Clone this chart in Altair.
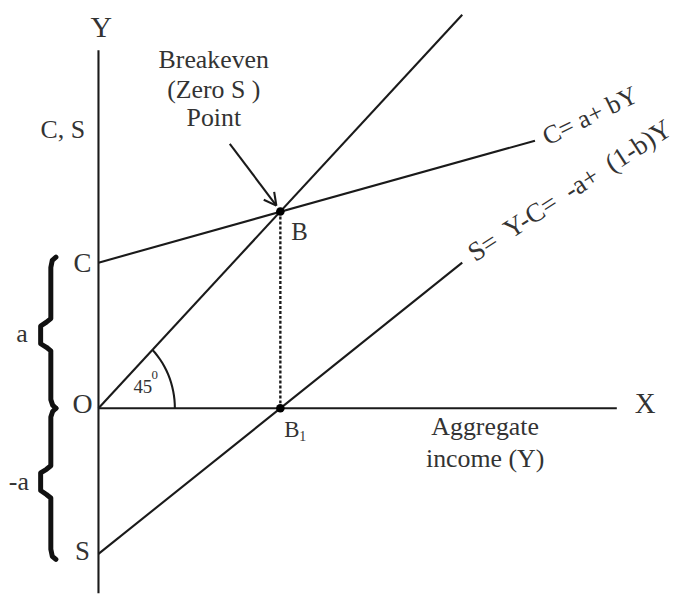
import math
import altair as alt
import pandas as pd

# ---- values (data units) ----
A = 37                      # intercept a
LINE45_X = [0, 100]; LINE45_Y = [0, 100]
CLINE_X = [0, 120];  CLINE_Y = [37, 68]
SLINE_X = [0, 100];  SLINE_Y = [-37, 37]
YAXIS_X = [0, 0];    YAXIS_Y = [-47, 91]
XAXIS_X = [0, 142.5]; XAXIS_Y = [0, 0]
BREAK_X = 50; BREAK_Y = 50
DOTS_X = [50, 50]; DOTS_Y = [50, 0]

XDOM = [-24.6, 158.5]
YDOM = [-47, 100]
W, H = 670, 582
SX = W / (XDOM[1] - XDOM[0])
SY = H / (YDOM[1] - YDOM[0])

INK = "#1a1a1a"
TXT = "#333333"
FONT = "Liberation Serif"

xs = alt.Scale(domain=XDOM, nice=False, zero=False)
ys = alt.Scale(domain=YDOM, nice=False, zero=False)

def X(f="x"):
    return alt.X(f"{f}:Q", scale=xs, axis=None)

def Y(f="y"):
    return alt.Y(f"{f}:Q", scale=ys, axis=None)

# ---- solid lines ----
rows = []
for name, lx, ly in [("yaxis", YAXIS_X, YAXIS_Y), ("xaxis", XAXIS_X, XAXIS_Y),
                     ("l45", LINE45_X, LINE45_Y), ("c", CLINE_X, CLINE_Y),
                     ("s", SLINE_X, SLINE_Y)]:
    for i, (a, b) in enumerate(zip(lx, ly)):
        rows.append({"seg": name, "i": i, "x": a, "y": b})

# arrow shaft and head
AR_FROM = (36.1, 67.2)
AR_TO = (48.9, 51.5)
dx = (AR_TO[0] - AR_FROM[0]) * SX
dy = -(AR_TO[1] - AR_FROM[1]) * SY
L = math.hypot(dx, dy); ux, uy = dx / L, dy / L
rows += [{"seg": "arrow", "i": 0, "x": AR_FROM[0], "y": AR_FROM[1]},
         {"seg": "arrow", "i": 1, "x": AR_TO[0], "y": AR_TO[1]}]
for k, ang in enumerate([28, -28]):
    t = math.radians(ang)
    hx = ux * math.cos(t) - uy * math.sin(t)
    hy = ux * math.sin(t) + uy * math.cos(t)
    px = AR_TO[0] - 14 * hx / SX
    py = AR_TO[1] + 14 * hy / SY
    rows += [{"seg": f"head{k}", "i": 0, "x": px, "y": py},
             {"seg": f"head{k}", "i": 1, "x": AR_TO[0], "y": AR_TO[1]}]

# 45 degree arc
R = 21
for i in range(16):
    t = math.radians(45 * i / 15)
    rows.append({"seg": "arc", "i": i, "x": R * math.cos(t), "y": R * math.sin(t)})

lines_df = pd.DataFrame(rows)
lines = alt.Chart(lines_df).mark_line(color=INK, strokeWidth=2.1).encode(
    x=X(), y=Y(), detail="seg:N", order="i:Q")

# ---- braces ----
BRACE_XR, BRACE_XM, BRACE_XL = -11.7, -13.1, -15.9
brows = []
for sgn, nm in [(1, "up"), (-1, "dn")]:
    pts = [(BRACE_XR, 38.4), (-12.7, 37.6), (BRACE_XM, 35.8), (BRACE_XM, 22.8),
           (-14.3, 21.9), (BRACE_XL, 20.9), (BRACE_XL, 16.4), (-14.3, 15.5),
           (BRACE_XM, 14.6), (BRACE_XM, 2.2), (-12.6, 0.8), (BRACE_XR, 0)]
    for i, (a, b) in enumerate(pts):
        brows.append({"seg": nm, "i": i, "x": a, "y": sgn * b})
braces = alt.Chart(pd.DataFrame(brows)).mark_line(
    color="#111111", strokeWidth=5, strokeJoin="round", strokeCap="round").encode(
    x=X(), y=Y(), detail="seg:N", order="i:Q")

# ---- dashed drop line ----
dash = alt.Chart(pd.DataFrame({"x": [BREAK_X, BREAK_X], "y": [BREAK_Y, 0], "i": [0, 1]})).mark_line(
    color=INK, strokeWidth=2.4, strokeDash=[3, 2]).encode(x=X(), y=Y(), order="i:Q")

# ---- dots ----
dots = alt.Chart(pd.DataFrame({"x": DOTS_X, "y": DOTS_Y})).mark_point(
    filled=True, color="#000000", size=75, opacity=1).encode(x=X(), y=Y())

# ---- centered labels ----
CT_TEXT = ["Y", "X", "C, S", "C", "O", "S", "a", "-a",
           "Breakeven", "(Zero S )", "Point", "Aggregate", "income (Y)"]
CT_X = [0.8, 150.3, -9.8, -4.4, -4.4, -4.4, -21.0, -21.9, 31.7, 31.7, 31.7, 106.3, 106.3]
CT_Y = [96.5, 1.0, 70.7, 36.6, 0.8, -36.4, 18.9, -18.7, 88.6, 80.8, 73.7, -4.8, -12.9]
CT_SIZE = [30, 29, 26, 27, 28, 27, 26, 26, 26, 26, 26, 26, 26]
ct = alt.Chart(pd.DataFrame({"x": CT_X, "y": CT_Y, "t": CT_TEXT, "s": CT_SIZE})).mark_text(
    font=FONT, color=TXT, align="center", baseline="middle").encode(
    x=X(), y=Y(), text="t:N", size=alt.Size("s:Q", scale=None, legend=None))

# ---- left aligned small labels ----
LT_TEXT = ["45", "0", "B", "B", "1"]
LT_X = [9.6, 14.6, 53.0, 51.1, 55.2]
LT_Y = [5.3, 8.4, 44.7, -5.6, -7.4]
LT_SIZE = [19, 13, 25, 23, 14]
lt = alt.Chart(pd.DataFrame({"x": LT_X, "y": LT_Y, "t": LT_TEXT, "s": LT_SIZE})).mark_text(
    font=FONT, color=TXT, align="left", baseline="middle").encode(
    x=X(), y=Y(), text="t:N", size=alt.Size("s:Q", scale=None, legend=None))

# ---- rotated equation labels ----
NB = "\u00a0"
C_EQ = "C= a+ bY"
S_EQ = f"S={NB} Y-C={NB} -a+{NB} (1-b)Y"
ceq = alt.Chart(pd.DataFrame({"x": [123.5], "y": [66.7], "t": [C_EQ]})).mark_text(
    font=FONT, color=TXT, align="left", baseline="alphabetic", fontSize=26, angle=334).encode(
    x=X(), y=Y(), text="t:N")
seq = alt.Chart(pd.DataFrame({"x": [103.6], "y": [37.1], "t": [S_EQ]})).mark_text(
    font=FONT, color=TXT, align="left", baseline="alphabetic", fontSize=27, angle=327).encode(
    x=X(), y=Y(), text="t:N")

chart = alt.layer(lines, braces, dash, dots, ct, lt, ceq, seq).properties(
    width=W, height=H, padding=0, background="white"
).configure_view(stroke=None)

chart.save("out.html", embed_options={"renderer": "svg", "actions": False})
